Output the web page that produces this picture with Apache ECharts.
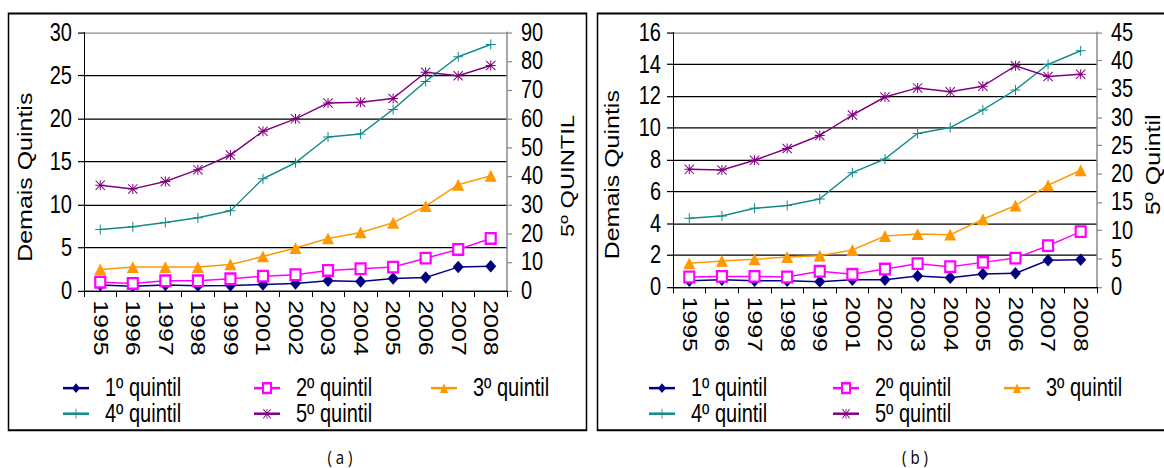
<!DOCTYPE html>
<html>
<head>
<meta charset="utf-8">
<script src="https://cdn.jsdelivr.net/npm/echarts@6/dist/echarts.min.js"></script>
<style>
  html, body { margin: 0; padding: 0; background: #fff; width: 1164px; height: 468px; }
  #frame { position: relative; width: 1164px; height: 468px; overflow: hidden; background: #fff; }
  /* The figure is laid out at 1164x375 and stretched vertically to fill 468px */
  #chart { position: absolute; left: 0; top: 0; width: 1164px; height: 375px;
           transform: scale(1, 1.248); transform-origin: 0 0; }
</style>
</head>
<body>
<div id="frame"><div id="chart"></div></div>
<script>
// Categories (years)
const years = ['1995','1996','1997','1998','1999','2001','2002','2003','2004','2005','2006','2007','2008'];

// Panel (a): quintiles 1-4 on the left axis, 5th quintile on the right axis
const a_q1 = [0.66,0.54,0.66,0.58,0.62,0.74,0.85,1.16,1.08,1.43,1.55,2.75,2.86];
const a_q2 = [1.00,0.85,1.16,1.16,1.39,1.70,1.86,2.36,2.56,2.75,3.79,4.80,6.08];
const a_q3 = [2.48,2.75,2.75,2.75,3.06,3.99,4.96,6.08,6.78,7.90,9.83,12.31,13.36];
const a_q4 = [7.12,7.43,7.94,8.48,9.29,13.01,14.87,17.85,18.20,21.06,24.31,27.18,28.61];
const a_q5 = [36.8,35.5,38.1,42.2,47.3,55.6,59.9,65.4,65.7,67.0,76.1,74.9,78.5];

// Panel (b)
const b_q1 = [0.40,0.46,0.40,0.40,0.34,0.46,0.46,0.69,0.59,0.82,0.86,1.68,1.72];
const b_q2 = [0.63,0.67,0.67,0.63,0.99,0.80,1.13,1.47,1.28,1.55,1.82,2.60,3.48];
const b_q3 = [1.49,1.64,1.74,1.89,1.97,2.33,3.21,3.33,3.29,4.26,5.12,6.40,7.34];
const b_q4 = [4.32,4.47,4.95,5.12,5.54,7.19,8.05,9.65,10.02,11.13,12.39,13.99,14.85];
const b_q5 = [20.8,20.7,22.4,24.5,26.8,30.4,33.6,35.2,34.5,35.5,39.1,37.2,37.6];

const seriesNames = ['1º quintil','2º quintil','3º quintil','4º quintil','5º quintil'];

// Axis ranges
const aLeft = { min: 0, max: 30, interval: 5 };
const aRight = { min: 0, max: 90, interval: 10 };
const bLeft = { min: 0, max: 16, interval: 2 };
const bRight = { min: 0, max: 45, interval: 5 };

const FONT = 'Liberation Sans, Arial, sans-serif';
const PLUS = 'path://M4.5,0h1v10h-1z M0,4.5h10v1h-10z';
const STAR = 'path://M4.5,0h1v10h-1z M0,4.5h10v1h-10z M0.7,0L10,9.3L9.3,10L0,0.7z M9.3,0L10,0.7L0.7,10L0,9.3z';

const styles = [
  { color: '#000080', symbol: 'diamond', symbolSize: [11, 10] },
  { color: '#ff00ff', symbol: 'emptyRect', symbolSize: [10, 8.5] },
  { color: '#ff9900', symbol: 'triangle', symbolSize: [12, 9.5] },
  { color: '#108a8a', symbol: PLUS, symbolSize: [10, 8] },
  { color: '#800080', symbol: STAR, symbolSize: [10, 8] }
];

function makeSeries(data, idx, xAxisIndex, yAxisIndex) {
  const s = styles[idx];
  return {
    name: seriesNames[idx],
    type: 'line',
    xAxisIndex: xAxisIndex,
    yAxisIndex: yAxisIndex,
    data: data,
    symbol: s.symbol,
    symbolSize: s.symbolSize,
    showAllSymbol: true,
    lineStyle: { color: s.color, width: 1.2 },
    itemStyle: { color: s.color, borderColor: s.color, borderWidth: idx === 1 ? 1.2 : 0 },
    animation: false,
    z: 3 + idx
  };
}

function leftAxis(gridIndex, r, count) {
  const colors = [];
  for (let i = 0; i < count; i++) colors.push(i === count - 1 ? '#8a8a8a' : '#000');
  return {
    type: 'value', gridIndex: gridIndex, position: 'left',
    min: r.min, max: r.max, interval: r.interval,
    axisLine: { show: true, lineStyle: { color: '#000', width: 1 } },
    axisTick: { show: true, length: 6, lineStyle: { color: '#000' } },
    axisLabel: { color: '#000', fontFamily: FONT, fontSize: 20, margin: 12 },
    splitLine: { show: true, lineStyle: { color: colors, width: 1 } }
  };
}

function rightAxis(gridIndex, r) {
  return {
    type: 'value', gridIndex: gridIndex, position: 'right',
    min: r.min, max: r.max, interval: r.interval,
    alignTicks: false,
    axisLine: { show: true, lineStyle: { color: '#8a8a8a', width: 1.5 } },
    axisTick: { show: true, length: 5, lineStyle: { color: '#8a8a8a' } },
    axisLabel: { color: '#000', fontFamily: FONT, fontSize: 20, margin: 14 },
    splitLine: { show: false }
  };
}

function catAxis(gridIndex) {
  return {
    type: 'category', gridIndex: gridIndex, data: years, boundaryGap: true,
    axisLine: { show: true, lineStyle: { color: '#000', width: 1 } },
    axisTick: { show: true, length: 5, lineStyle: { color: '#000' } },
    axisLabel: { color: '#000', fontFamily: FONT, fontSize: 20, rotate: -90, margin: 7.5, interval: 0 }
  };
}

// Legend: one component per entry, laid out in a 3-column grid
function legendItems(x0, cols, rows) {
  const out = [];
  seriesNames.forEach((name, i) => {
    const c = i % 3, r = Math.floor(i / 3);
    out.push({
      data: [name],
      left: x0 + cols[c], top: rows[r],
      orient: 'horizontal', padding: 0,
      itemWidth: 26, itemHeight: 10,
      textStyle: { color: '#000', fontFamily: FONT, fontSize: 20, lineHeight: 17, padding: [0, 0, 0, 11] },
      selectedMode: false
    });
  });
  return out;
}

const chart = echarts.init(document.getElementById('chart'), null, { renderer: 'svg', width: 1164, height: 375 });

function rotText(x, y, text, size) {
  return {
    type: 'text', x: x, y: y, rotation: Math.PI / 2,
    style: { text: text, fill: '#000', font: size + 'px ' + FONT, align: 'center', verticalAlign: 'middle' },
    z: 10
  };
}

chart.setOption({
  backgroundColor: '#fff',
  animation: false,
  grid: [
    { left: 84, top: 26, width: 423, height: 207 },
    { left: 673, top: 26, width: 424, height: 204 }
  ],
  xAxis: [catAxis(0), catAxis(1)],
  yAxis: [
    leftAxis(0, aLeft, 7), rightAxis(0, aRight),
    leftAxis(1, bLeft, 9), rightAxis(1, bRight)
  ],
  legend: legendItems(62, [0, 191, 368], [301, 321.5]).concat(legendItems(648, [0, 184, 355], [301, 321.5])),
  series: [
    makeSeries(a_q1, 0, 0, 0), makeSeries(a_q2, 1, 0, 0), makeSeries(a_q3, 2, 0, 0),
    makeSeries(a_q4, 3, 0, 0), makeSeries(a_q5, 4, 0, 1),
    makeSeries(b_q1, 0, 1, 2), makeSeries(b_q2, 1, 1, 2), makeSeries(b_q3, 2, 1, 2),
    makeSeries(b_q4, 3, 1, 2), makeSeries(b_q5, 4, 1, 3)
  ],
  graphic: [
    { type: 'rect', shape: { x: 8.5, y: 10.8, width: 578, height: 334 },
      style: { fill: 'none', stroke: '#000', lineWidth: 1.5 }, z: 1 },
    { type: 'rect', shape: { x: 597.5, y: 10.8, width: 600, height: 334 },
      style: { fill: 'none', stroke: '#000', lineWidth: 1.5 }, z: 1 },
    rotText(25, 142, 'Demais Quintis', 20),
    rotText(568, 141, '5º QUINTIL', 19),
    rotText(612, 140, 'Demais Quintis', 20),
    rotText(1153, 132, '5º Quintil', 20),
    { type: 'text', x: 340, y: 366,
      style: { text: '( a )', fill: '#000', font: '15px Open Sans, sans-serif', align: 'center', verticalAlign: 'middle' } },
    { type: 'text', x: 915, y: 366,
      style: { text: '( b )', fill: '#000', font: '15px Open Sans, sans-serif', align: 'center', verticalAlign: 'middle' } }
  ]
});
</script>
</body>
</html>
